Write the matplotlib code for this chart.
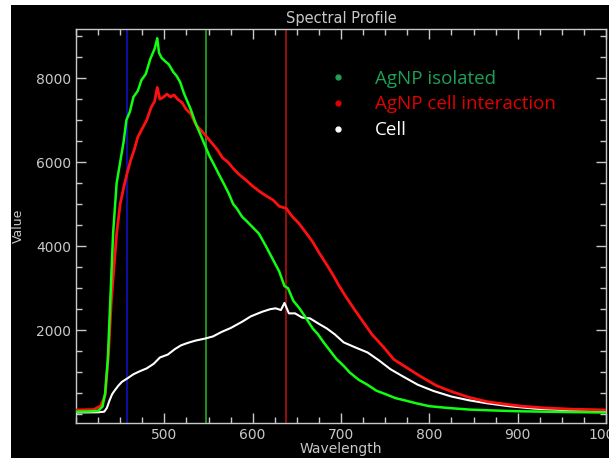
import matplotlib
matplotlib.use('Agg')

import matplotlib.pyplot as plt
from matplotlib.lines import Line2D
from matplotlib.patches import Rectangle
from matplotlib.ticker import MultipleLocator

# AgNP isolated (green)
green_wl = [400, 415, 425, 430, 433, 436, 439, 442, 446, 450, 454, 457, 461, 465, 470, 474,
            479, 484, 489, 492, 494, 497, 501, 505, 510, 514, 518, 522, 525, 530, 535, 540,
            546, 551, 556, 562, 567, 573, 578, 582, 588, 593, 600, 607, 615, 622, 630, 636,
            640, 646, 653, 660, 668, 674, 680, 688, 695, 703, 710, 720, 730, 740, 750, 762,
            772, 785, 800, 820, 845, 870, 900, 930, 960, 1000]
green_val = [60, 65, 80, 180, 500, 1300, 2800, 4300, 5500, 6000, 6500, 7000, 7200, 7550, 7700, 7950,
             8100, 8450, 8700, 8950, 8600, 8480, 8400, 8330, 8150, 8050, 7900, 7650, 7500, 7250, 6950, 6700,
             6400, 6150, 5950, 5700, 5500, 5250, 5000, 4900, 4700, 4600, 4450, 4300, 4000, 3720, 3400, 3050,
             3000, 2700, 2520, 2300, 2040, 1900, 1720, 1500, 1310, 1150, 990, 820, 700, 560, 480, 380,
             330, 260, 190, 150, 110, 90, 70, 60, 50, 40]

# AgNP cell interaction (red)
red_wl = [400, 420, 428, 433, 437, 440, 443, 446, 450, 454, 458, 462, 466, 470, 475, 480,
          485, 489, 492, 495, 499, 503, 507, 511, 515, 520, 525, 530, 536, 542, 548, 554,
          560, 566, 572, 578, 585, 592, 600, 608, 615, 623, 630, 638, 645, 652, 660, 668,
          675, 682, 690, 698, 706, 715, 725, 735, 748, 760, 775, 790, 808, 825, 845, 865,
          885, 905, 930, 960, 1000]
red_val = [100, 110, 200, 450, 1500, 2700, 3500, 4300, 5000, 5400, 5750, 6050, 6300, 6600, 6800, 7000,
           7300, 7450, 7780, 7500, 7550, 7620, 7550, 7600, 7500, 7420, 7250, 7150, 6880, 6750, 6600, 6450,
           6300, 6100, 6000, 5850, 5700, 5580, 5430, 5300, 5200, 5100, 4950, 4900, 4700, 4550, 4330, 4100,
           3850, 3620, 3350, 3050, 2780, 2500, 2200, 1900, 1600, 1300, 1100, 900, 680, 540, 400, 300,
           240, 190, 150, 120, 100]

# Cell (white)
cell_wl = [400, 425, 432, 435, 438, 441, 444, 448, 452, 458, 465, 472, 480, 488, 495, 504,
           512, 519, 527, 535, 546, 555, 565, 575, 588, 598, 611, 620, 626, 632, 636, 641,
           648, 656, 665, 675, 684, 693, 703, 715, 730, 743, 756, 770, 787, 805, 825, 845,
           865, 890, 920, 950, 1000]
cell_val = [40, 45, 60, 150, 330, 480, 570, 680, 770, 850, 950, 1020, 1090, 1200, 1350, 1420,
            1550, 1640, 1700, 1750, 1800, 1850, 1960, 2050, 2200, 2330, 2440, 2500, 2520, 2480, 2650, 2400,
            2400, 2300, 2280, 2150, 2040, 1900, 1710, 1600, 1470, 1280, 1070, 900, 700, 550, 420, 330,
            260, 190, 130, 100, 70]

# marker lines
vline_wl = [458, 547, 638]
vline_colors = ['#1010c0', '#22aa22', '#b01010']

legend_labels = ['AgNP isolated', 'AgNP cell interaction', 'Cell']
legend_colors = ['#1fa055', '#e00000', '#ffffff']

axis_grey = '#c8c8c8'

fig = plt.figure(figsize=(6.09, 4.58), dpi=100, facecolor='white')
# black panel with a thin white strip on the left and top, like the screenshot
fig.patches.append(Rectangle((11 / 609, 0), 1, 1 - 5 / 458, transform=fig.transFigure,
                             facecolor='black', edgecolor='none', zorder=-10))

ax = fig.add_axes([76 / 609, 1 - 423 / 458, 530 / 609, 394 / 458])
ax.set_facecolor('black')

for wl, c in zip(vline_wl, vline_colors):
    ax.axvline(wl, color=c, lw=1.2, zorder=1)

ax.plot(cell_wl, cell_val, color='white', lw=1.5, zorder=3)
ax.plot(red_wl, red_val, color='#ff1010', lw=2.0, zorder=4)
ax.plot(green_wl, green_val, color='#10ff10', lw=1.8, zorder=5)

ax.set_xlim(400, 1000)
ax.set_ylim(-210, 9170)
ax.xaxis.set_minor_locator(MultipleLocator(25))
ax.yaxis.set_minor_locator(MultipleLocator(500))
ax.set_xticks([500, 600, 700, 800, 900, 1000])
ax.set_yticks([2000, 4000, 6000, 8000])

ax.tick_params(which='both', direction='in', top=True, right=True, colors=axis_grey,
               labelsize=10, labelcolor=axis_grey)
ax.tick_params(which='major', length=7, width=1)
ax.tick_params(which='minor', length=4, width=1)
for s in ax.spines.values():
    s.set_color(axis_grey)
    s.set_linewidth(1)

ax.set_title('Spectral Profile', color=axis_grey, fontsize=10.5, pad=4)
ax.set_xlabel('Wavelength', color=axis_grey, fontsize=10, labelpad=0)
ax.set_ylabel('Value', color=axis_grey, fontsize=9, labelpad=8)

handles = [Line2D([], [], ls='none', marker='o', markersize=3.5, color=c) for c in legend_colors]
leg = ax.legend(handles, legend_labels, loc='upper left', bbox_to_anchor=(0.445, 0.94),
                frameon=False, labelcolor=legend_colors, handlelength=1.0, handletextpad=1.45,
                labelspacing=0.42, prop={'family': 'Open Sans', 'size': 13.5})

fig.savefig('out.png', dpi=100, facecolor=fig.get_facecolor())
